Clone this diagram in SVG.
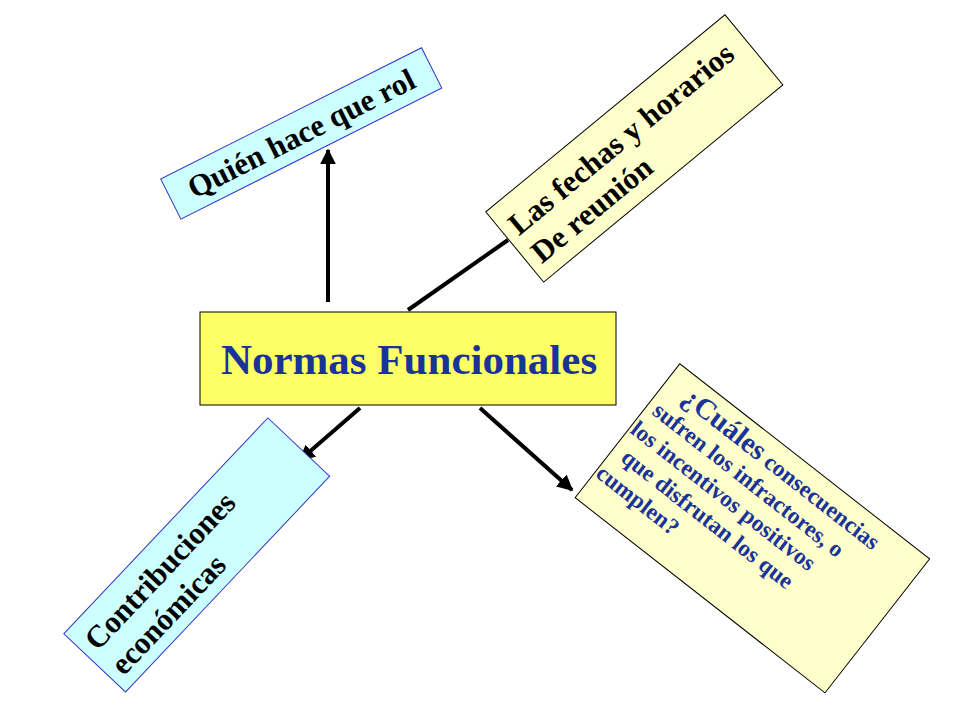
<svg xmlns="http://www.w3.org/2000/svg" width="960" height="720" viewBox="0 0 960 720">
<defs>
<marker id="ah" viewBox="0 0 10 10" refX="9" refY="5" markerWidth="4" markerHeight="4" orient="auto"><path d="M0,0 L10,5 L0,10 z" fill="#000"/></marker>
<style>
.t{font-family:"Liberation Serif",serif;font-weight:bold}
.k{fill:#000;font-size:31px}
.b{fill:#1a3399}
.c{stroke:#000;stroke-width:4;fill:none}
</style>
</defs>
<rect width="960" height="720" fill="#fff"/>
<g id="connectors">
<line class="c" x1="328" y1="302" x2="328" y2="150" marker-end="url(#ah)"/>
<line class="c" x1="408" y1="310" x2="508" y2="240"/>
<line class="c" x1="360" y1="408" x2="300" y2="460" marker-end="url(#ah)"/>
<line class="c" x1="480" y1="408" x2="572" y2="490" marker-end="url(#ah)"/>
</g>
<g id="center">
<rect x="200" y="312" width="416" height="93" fill="#ffff66" stroke="#000" stroke-width="1"/>
<text class="t b" x="409" y="374" font-size="43" text-anchor="middle">Normas Funcionales</text>
</g>
<g id="rol" transform="translate(301,133) rotate(-26.7)">
<rect x="-146" y="-22" width="292" height="45" fill="#ccffff" stroke="#3333cc" stroke-width="1"/>
<text class="t k" x="0" y="11" text-anchor="middle">Quién hace que rol</text>
</g>
<g id="fechas" transform="translate(634,148) rotate(-39.5)">
<rect x="-155" y="-45" width="310" height="91" fill="#ffffcc" stroke="#000" stroke-width="1"/>
<text class="t k" x="-145" y="-5">Las fechas y horarios</text>
<text class="t k" x="-145" y="31">De reunión</text>
</g>
<g id="contrib" transform="translate(196,555) rotate(-46.6)">
<rect x="-148" y="-42" width="297" height="85" fill="#ccffff" stroke="#3333cc" stroke-width="1"/>
<text class="t k" x="-138" y="-5">Contribuciones</text>
<text class="t k" x="-138" y="31">económicas</text>
</g>
<g id="consec" transform="translate(752,528) rotate(38)">
<rect x="-158" y="-85" width="317" height="170" fill="#ffffcc" stroke="#000" stroke-width="1"/>
<text class="t b" x="-135" y="-56" font-size="23.5"><tspan font-size="29">¿Cuáles</tspan> consecuencias</text>
<text class="t b" x="-150" y="-28" font-size="23.5">sufren los infractores, o</text>
<text class="t b" x="-156" y="0" font-size="23.5">los incentivos  positivos</text>
<text class="t b" x="-146" y="28" font-size="23.5">que disfrutan los que</text>
<text class="t b" x="-156" y="56" font-size="23.5">cumplen?</text>
</g>
</svg>
